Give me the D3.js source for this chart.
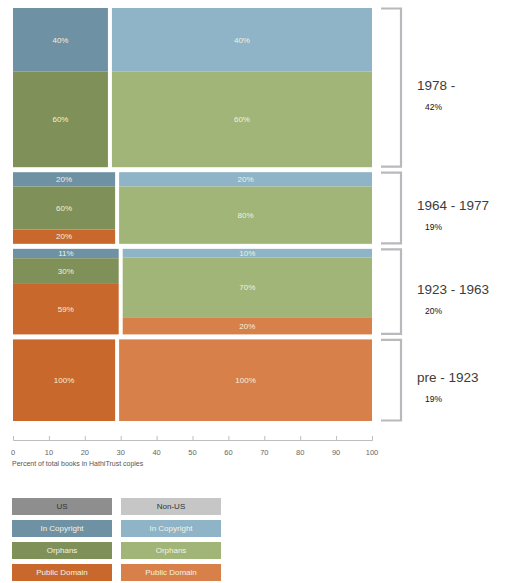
<!DOCTYPE html>
<html>
<head>
<meta charset="utf-8">
<script src="https://cdn.jsdelivr.net/npm/d3@7/dist/d3.min.js"></script>
<style>
  html, body { margin: 0; padding: 0; background: #fff; }
  svg { display: block; font-family: "Liberation Sans", Arial, sans-serif; }
</style>
</head>
<body>
<svg id="chart" width="506" height="583"></svg>
<script>
// ---- Data ----
const eras = ["1978 -", "1964 - 1977", "1923 - 1963", "pre - 1923"];
const eraShareLabels = ["42%", "19%", "20%", "19%"];
const eraHeights = [40, 18, 21.5, 20.5];       // drawn row heights (% of stack)
const usShare = [27, 29, 30, 29];               // % of row width that is US
const categories = ["In Copyright", "Orphans", "Public Domain"];
const usValues = [
  [40, 60, 0],
  [20, 60, 20],
  [11, 30, 59],
  [0, 0, 100]
];
const nonUsValues = [
  [40, 60, 0],
  [20, 80, 0],
  [10, 70, 20],
  [0, 0, 100]
];
const xTicks = [0, 10, 20, 30, 40, 50, 60, 70, 80, 90, 100];
const axisTitle = "Percent of total books in HathiTrust copies";
const groups = ["US", "Non-US"];

// ---- Colours ----
const usColors = ["#6f91a4", "#7f9158", "#c8682c"];
const nonUsColors = ["#8fb4c7", "#a2b578", "#d7804a"];
const groupHeaderColors = ["#8e8e8e", "#c6c6c6"];

const svg = d3.select("#chart");

const x = d3.scaleLinear().domain([0, 100]).range([13, 372]);
const rowGap = 5;
const plotTop = 8, plotBottom = 421;
const totalH = plotBottom - plotTop - rowGap * (eras.length - 1);
const h = d3.scaleLinear().domain([0, 100]).range([0, totalH]);

let yCursor = plotTop;
const rows = eras.map((e, i) => {
  const r = { era: e, share: eraShareLabels[i], y0: yCursor, y1: yCursor + h(eraHeights[i]), i };
  yCursor = r.y1 + rowGap;
  return r;
});

const colGap = 2;
rows.forEach(r => {
  const i = r.i;
  const cols = [
    { x0: x(0), x1: x(usShare[i]) - colGap, vals: usValues[i], colors: usColors },
    { x0: x(usShare[i]) + colGap, x1: x(100), vals: nonUsValues[i], colors: nonUsColors }
  ];
  cols.forEach(c => {
    const total = d3.sum(c.vals);
    const ys = d3.scaleLinear().domain([0, total]).range([r.y0, r.y1]);
    let acc = 0;
    c.vals.forEach((v, k) => {
      if (v <= 0) return;
      const yA = ys(acc), yB = ys(acc + v);
      acc += v;
      svg.append("rect")
        .attr("x", c.x0).attr("y", yA)
        .attr("width", c.x1 - c.x0).attr("height", yB - yA)
        .attr("fill", c.colors[k]);
      svg.append("text")
        .attr("x", (c.x0 + c.x1) / 2)
        .attr("y", (yA + yB) / 2)
        .attr("dy", "0.35em")
        .attr("text-anchor", "middle")
        .attr("font-size", 8)
        .attr("fill", "#f2f0dc")
        .text(v + "%");
    });
  });

  // bracket
  const bx0 = 381, bx1 = 401;
  svg.append("path")
    .attr("d", `M${bx0},${r.y0 + 0.5} H${bx1} V${r.y1 - 0.5} H${bx0}`)
    .attr("fill", "none")
    .attr("stroke", "#b9b9bd")
    .attr("stroke-width", 2.2);

  const cy = (r.y0 + r.y1) / 2;
  svg.append("text")
    .attr("x", 417).attr("y", cy + 2)
    .attr("font-size", 13.5)
    .attr("fill", "#3c3c3c")
    .text(r.era);
  svg.append("text")
    .attr("x", 425).attr("y", cy + 22)
    .attr("font-size", 8.5)
    .attr("fill", "#111")
    .text(r.share);
});

// ---- Axis ----
const axisY = 440;
const axis = d3.axisTop(x).tickValues(xTicks).tickSize(4).tickFormat("");
const gAxis = svg.append("g").attr("transform", `translate(0,${axisY})`).call(axis);
gAxis.select(".domain").attr("stroke", "#bdbdbd").attr("stroke-width", 1);
gAxis.selectAll(".tick line").attr("stroke", "#bdbdbd");
svg.append("g").selectAll("text").data(xTicks).join("text")
  .attr("x", d => x(d)).attr("y", axisY + 15)
  .attr("text-anchor", "middle")
  .attr("font-size", 7.5)
  .attr("fill", "#666")
  .text(d => d);
svg.append("text")
  .attr("x", 12).attr("y", axisY + 26)
  .attr("font-size", 7)
  .attr("fill", "#555")
  .text(axisTitle);

// ---- Legend ----
const legX = [12, 121], legW = 100, legH = 17, legY0 = 498, legStep = 22;
groups.forEach((g, gi) => {
  svg.append("rect")
    .attr("x", legX[gi]).attr("y", legY0)
    .attr("width", legW).attr("height", legH)
    .attr("fill", groupHeaderColors[gi]);
  svg.append("text")
    .attr("x", legX[gi] + legW / 2).attr("y", legY0 + legH / 2)
    .attr("dy", "0.35em").attr("text-anchor", "middle")
    .attr("font-size", 8).attr("fill", "#333")
    .text(g);
  const cols = gi === 0 ? usColors : nonUsColors;
  categories.forEach((c, k) => {
    const yy = legY0 + legStep * (k + 1);
    svg.append("rect")
      .attr("x", legX[gi]).attr("y", yy)
      .attr("width", legW).attr("height", legH)
      .attr("fill", cols[k]);
    svg.append("text")
      .attr("x", legX[gi] + legW / 2).attr("y", yy + legH / 2)
      .attr("dy", "0.35em").attr("text-anchor", "middle")
      .attr("font-size", 8).attr("fill", "#f4f2e4")
      .text(c);
  });
});
</script>
</body>
</html>
